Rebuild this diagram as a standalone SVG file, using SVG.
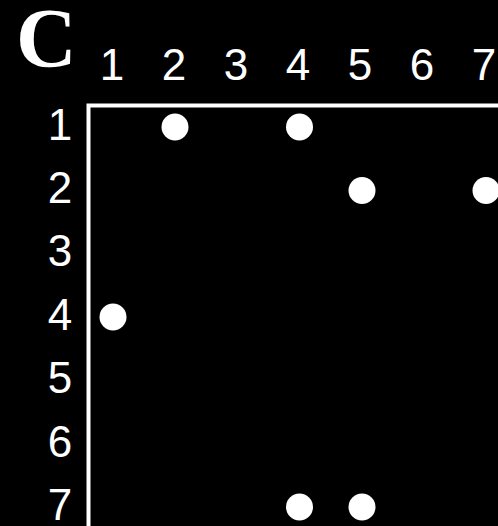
<svg xmlns="http://www.w3.org/2000/svg" width="498" height="526" viewBox="0 0 498 526">
<style>
.lbl{font-family:"Liberation Sans",Arial,sans-serif;font-size:44px;fill:#fff;text-anchor:middle}
.dot{fill:#fff}
.ax{stroke:#fff;stroke-width:4;fill:none}
</style>
<rect width="498" height="526" fill="#000"/>
<text x="16" y="67" font-family="'Liberation Serif','Times New Roman',serif" font-weight="bold" font-size="84" fill="#fff">C</text>
<g id="colLabels">
<text class="lbl" x="112" y="80">1</text>
<text class="lbl" x="174" y="80">2</text>
<text class="lbl" x="236" y="80">3</text>
<text class="lbl" x="298" y="80">4</text>
<text class="lbl" x="360" y="80">5</text>
<text class="lbl" x="422" y="80">6</text>
<text class="lbl" x="484" y="80">7</text>
</g>
<g id="rowLabels">
<text class="lbl" x="60" y="140">1</text>
<text class="lbl" x="60" y="203">2</text>
<text class="lbl" x="60" y="266">3</text>
<text class="lbl" x="60" y="330">4</text>
<text class="lbl" x="60" y="393">5</text>
<text class="lbl" x="60" y="457">6</text>
<text class="lbl" x="60" y="520">7</text>
</g>
<g id="axes">
<path class="ax" d="M88.5,526 V105.5 H498"/>
</g>
<g id="dots">
<circle class="dot" cx="175" cy="127" r="13.5"/>
<circle class="dot" cx="299.5" cy="127" r="13.5"/>
<circle class="dot" cx="362" cy="190.5" r="13.5"/>
<circle class="dot" cx="486" cy="190.5" r="13.5"/>
<circle class="dot" cx="113" cy="317" r="13.5"/>
<circle class="dot" cx="299.5" cy="507" r="13.5"/>
<circle class="dot" cx="362" cy="507" r="13.5"/>
</g>
</svg>
